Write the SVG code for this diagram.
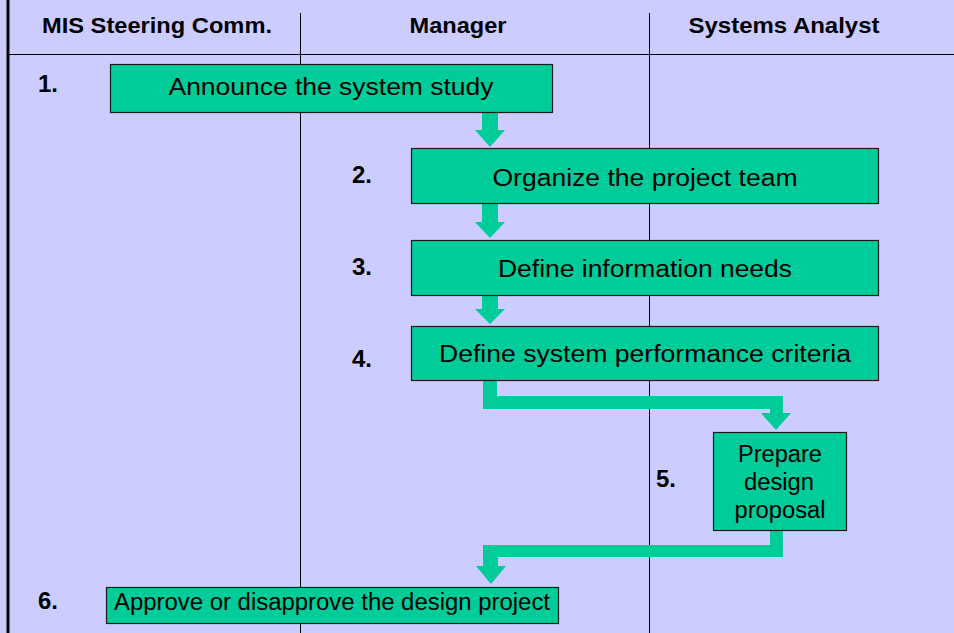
<svg xmlns="http://www.w3.org/2000/svg" width="954" height="633" viewBox="0 0 954 633">
<style>
.hdr{font-family:"Liberation Sans",Arial,sans-serif;font-weight:bold;font-size:22px;fill:#000;text-anchor:middle}
.num{font-family:"Liberation Sans",Arial,sans-serif;font-weight:bold;font-size:24px;fill:#000}
.box{fill:#00CC99;stroke:#1a1a1a;stroke-width:1.2}
.lbl{font-family:"Liberation Sans",Arial,sans-serif;font-size:23px;fill:#000;text-anchor:middle}
.arr{fill:#00CC99;stroke:none}
.lane{stroke:#000;stroke-width:1}
</style>
<rect x="0" y="0" width="954" height="633" fill="#CCCCFF"/>
<g id="lanes">
<line class="lane" x1="8" y1="54.5" x2="954" y2="54.5"/>
<line class="lane" x1="300.5" y1="13" x2="300.5" y2="633"/>
<line class="lane" x1="649.5" y1="13" x2="649.5" y2="633"/>
<line x1="8" y1="0" x2="8" y2="633" stroke="#000" stroke-width="3"/>
<text class="hdr" x="157" y="33" textLength="230" lengthAdjust="spacingAndGlyphs">MIS Steering Comm.</text>
<text class="hdr" x="458" y="33" textLength="97" lengthAdjust="spacingAndGlyphs">Manager</text>
<text class="hdr" x="784" y="33" textLength="191" lengthAdjust="spacingAndGlyphs">Systems Analyst</text>
</g>
<g id="connectors">
<polygon class="arr" points="482,112 498,112 498,130 505,130 490,147 475,130 482,130"/>
<polygon class="arr" points="482,203 498,203 498,222 505,222 490,238 475,222 482,222"/>
<polygon class="arr" points="482,295 498,295 498,309 505,309 490,324 475,309 482,309"/>
<polygon class="arr" points="483,380 497,380 497,396 783,396 783,413 791,413 776,430 761,413 770,413 770,409 483,409"/>
<polygon class="arr" points="770,530 783,530 783,557 498,557 498,566 506,566 491,584 476,566 483,566 483,545 770,545"/>
</g>
<g id="n1">
<rect class="box" x="110.5" y="64.5" width="442" height="48"/>
<text class="lbl" x="331" y="95" textLength="325" lengthAdjust="spacingAndGlyphs">Announce the system study</text>
<text class="num" x="38" y="92">1.</text>
</g>
<g id="n2">
<rect class="box" x="411.5" y="148.5" width="467" height="55"/>
<text class="lbl" x="645" y="186" textLength="305" lengthAdjust="spacingAndGlyphs">Organize the project team</text>
<text class="num" x="352" y="183">2.</text>
</g>
<g id="n3">
<rect class="box" x="411.5" y="240.5" width="467" height="55"/>
<text class="lbl" x="645" y="277" textLength="294" lengthAdjust="spacingAndGlyphs">Define information needs</text>
<text class="num" x="352" y="275">3.</text>
</g>
<g id="n4">
<rect class="box" x="411.5" y="326.5" width="467" height="54"/>
<text class="lbl" x="645" y="362" textLength="412" lengthAdjust="spacingAndGlyphs">Define system performance criteria</text>
<text class="num" x="352" y="367">4.</text>
</g>
<g id="n5">
<rect class="box" x="713.5" y="432.5" width="133" height="98"/>
<text class="lbl" x="780" y="462" textLength="84" lengthAdjust="spacingAndGlyphs">Prepare</text>
<text class="lbl" x="779" y="490" textLength="70" lengthAdjust="spacingAndGlyphs">design</text>
<text class="lbl" x="780" y="518" textLength="91" lengthAdjust="spacingAndGlyphs">proposal</text>
<text class="num" x="656" y="487">5.</text>
</g>
<g id="n6">
<rect class="box" x="106.5" y="587.5" width="452" height="36"/>
<text class="lbl" x="332" y="610" textLength="436" lengthAdjust="spacingAndGlyphs">Approve or disapprove the design project</text>
<text class="num" x="38" y="609">6.</text>
</g>
</svg>
